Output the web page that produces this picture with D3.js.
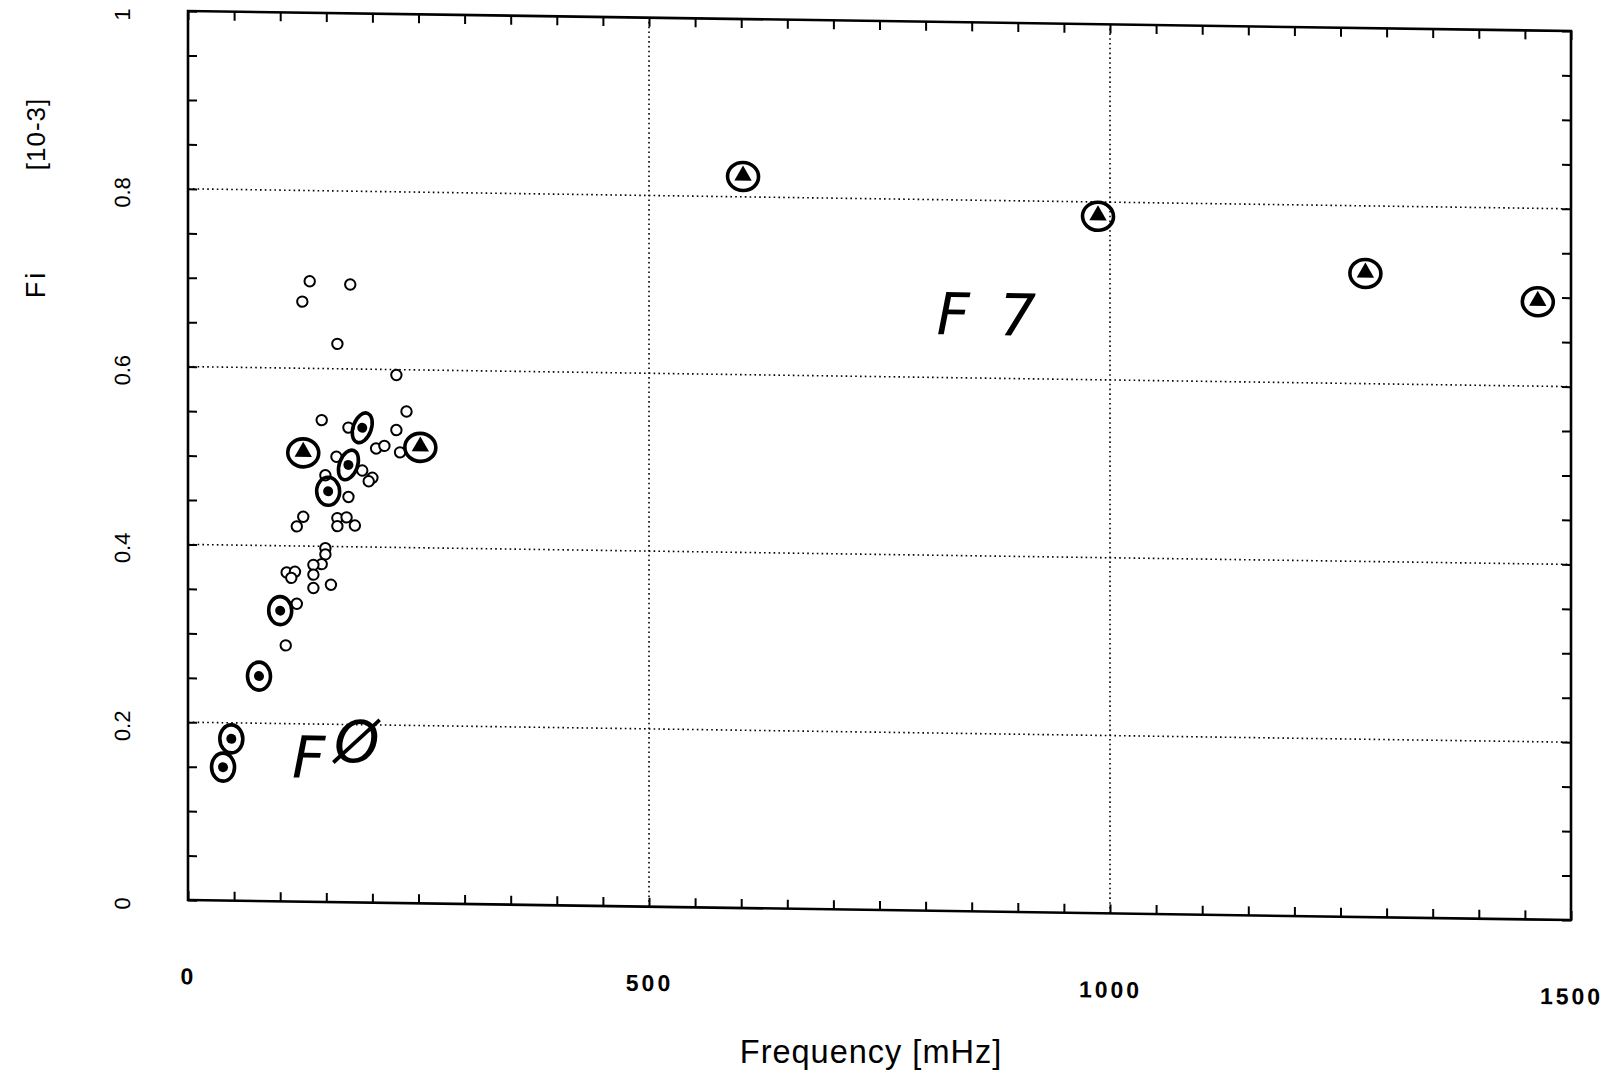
<!DOCTYPE html>
<html><head><meta charset="utf-8">
<script src="https://cdn.jsdelivr.net/npm/d3@7"></script>
<style>body{margin:0;background:#fff}</style>
</head><body>
<svg id="chart" width="1617" height="1076"></svg>
<script>
// ---- data ----
const xTickValues = [0, 500, 1000, 1500];
const xTickLabels = ["0", "500", "1000", "1500"];
const yTickValues = [0, 0.2, 0.4, 0.6, 0.8, 1];
const yTickLabels = ["0", "0.2", "0.4", "0.6", "0.8", "1"];
const gridX = [500, 1000];
const gridY = [0.2, 0.4, 0.6, 0.8];

// open circles
const openFreq = [132, 176, 124, 162, 226, 237, 145, 174, 226, 204, 213, 230, 161, 189, 200, 196, 149, 174,
                  125, 118, 162, 172, 162, 181, 149, 149, 145, 136, 136, 136, 155, 107, 116, 112, 118, 106];
const openFi   = [0.698, 0.695, 0.675, 0.628, 0.594, 0.553, 0.542, 0.534, 0.532, 0.511, 0.514, 0.507, 0.501, 0.486, 0.478, 0.474, 0.480, 0.456,
                  0.433, 0.422, 0.432, 0.433, 0.423, 0.424, 0.398, 0.391, 0.380, 0.379, 0.368, 0.353, 0.357, 0.370, 0.371, 0.364, 0.335, 0.288];

// filled triangles (circled by hand)
const triFreq = [602, 987, 1277, 1464, 125, 252];
const triFi   = [0.824, 0.785, 0.725, 0.696, 0.506, 0.514];

// filled dots (circled by hand)
const dotFreq = [152, 100, 77, 47, 38, 189, 174];
const dotFi   = [0.462, 0.327, 0.253, 0.182, 0.150, 0.534, 0.492];

// handwritten notes
const noteText = ["F", "Ø", "F", "7"];
const noteFreq = [131, 183, 830, 900];
const noteFi   = [0.163, 0.181, 0.672, 0.672];

// ---- drawing ----
const svg = d3.select("#chart");
svg.append("rect").attr("width", 1617).attr("height", 1076).attr("fill", "#fff");

const W = 1383, H0 = 900, H1 = 11;
const x = d3.scaleLinear().domain([0, 1500]).range([0, W]);
const y = d3.scaleLinear().domain([0, 1]).range([H0, H1]);

const g = svg.append("g").attr("transform", "translate(188,0) skewY(0.83)");

// grid
g.selectAll(".gy").data(gridY).join("line")
  .attr("x1", 0).attr("x2", W).attr("y1", d => y(d)).attr("y2", d => y(d))
  .attr("stroke", "#000").attr("stroke-width", 1.6).attr("stroke-dasharray", "1.6,3.2");
g.selectAll(".gx").data(gridX).join("line")
  .attr("x1", d => x(d)).attr("x2", d => x(d)).attr("y1", y(0)).attr("y2", y(1))
  .attr("stroke", "#000").attr("stroke-width", 1.6).attr("stroke-dasharray", "1.6,3.2");

// minor/major ticks, inward, on all four sides
const xt = d3.range(0, 1501, 50), yt = d3.range(0, 1.0001, 0.05);
function styleAxis(sel) {
  sel.select(".domain").remove();
  sel.selectAll("line").attr("stroke", "#000").attr("stroke-width", 2);
}
g.append("g").attr("transform", `translate(0,${y(0)})`)
  .call(d3.axisBottom(x).tickValues(xt).tickSize(-9).tickFormat("")).call(styleAxis);
g.append("g").attr("transform", `translate(0,${y(1)})`)
  .call(d3.axisTop(x).tickValues(xt).tickSize(-9).tickFormat("")).call(styleAxis);
g.append("g").call(d3.axisLeft(y).tickValues(yt).tickSize(-9).tickFormat("")).call(styleAxis);
g.append("g").attr("transform", `translate(${W},0)`)
  .call(d3.axisRight(y).tickValues(yt).tickSize(-9).tickFormat("")).call(styleAxis);

// frame
g.append("rect").attr("x", 0).attr("y", y(1)).attr("width", W).attr("height", y(0) - y(1))
  .attr("fill", "none").attr("stroke", "#000").attr("stroke-width", 2.6);

// tick labels
const xl = g.append("g").attr("transform", `translate(0,${y(0)})`)
  .call(d3.axisBottom(x).tickValues(xTickValues).tickFormat((d, i) => xTickLabels[i]).tickSize(0).tickPadding(68));
xl.select(".domain").remove();
xl.selectAll("text").attr("font-family", "'Liberation Sans', Arial, sans-serif")
  .attr("font-size", 23).attr("font-weight", "bold").attr("letter-spacing", 3).attr("fill", "#000");

const yl = g.append("g")
  .call(d3.axisLeft(y).tickValues(yTickValues).tickFormat((d, i) => yTickLabels[i]).tickSize(0));
yl.select(".domain").remove();
yl.selectAll("text").attr("x", 0).attr("dy", "0.36em").attr("text-anchor", "middle")
  .attr("transform", "translate(-66,4) rotate(-90)")
  .attr("font-family", "'Liberation Sans', Arial, sans-serif").attr("font-size", 22).attr("fill", "#000");

// open circles
g.selectAll(".oc").data(openFreq).join("circle")
  .attr("cx", d => x(d)).attr("cy", (d, i) => y(openFi[i])).attr("r", 5.2)
  .attr("fill", "#fff").attr("stroke", "#000").attr("stroke-width", 2);

// filled dots
g.selectAll(".fd").data(dotFreq).join("circle")
  .attr("cx", d => x(d)).attr("cy", (d, i) => y(dotFi[i])).attr("r", 5).attr("fill", "#000");

// triangles
const tri = d3.symbol().type(d3.symbolTriangle).size(130);
g.selectAll(".tr").data(triFreq).join("path")
  .attr("d", tri).attr("transform", (d, i) => `translate(${x(d)},${y(triFi[i])})`).attr("fill", "#000");

// hand-drawn rings
g.selectAll(".rt").data(triFreq).join("ellipse")
  .attr("cx", d => x(d)).attr("cy", (d, i) => y(triFi[i]) + 1).attr("rx", 15.5).attr("ry", 14)
  .attr("fill", "none").attr("stroke", "#000").attr("stroke-width", 3.6);
g.selectAll(".rd").data(dotFreq).join("ellipse")
  .attr("transform", (d, i) => `translate(${x(d)},${y(dotFi[i])}) rotate(${i >= 5 ? 20 : 0})`)
  .attr("rx", (d, i) => i >= 5 ? 9 : 11.5).attr("ry", (d, i) => i >= 5 ? 15.5 : 14)
  .attr("fill", "none").attr("stroke", "#000").attr("stroke-width", 3.6);

// handwritten notes
g.selectAll(".nt").data(noteText).join("text")
  .attr("x", (d, i) => x(noteFreq[i])).attr("y", (d, i) => y(noteFi[i]))
  .attr("dy", "0.36em").attr("text-anchor", "middle")
  .attr("font-family", "'DejaVu Sans', sans-serif").attr("font-style", "italic")
  .attr("font-size", 58).attr("fill", "#000").text(d => d);

// axis titles
svg.append("text").attr("x", 871).attr("y", 1052).attr("dy", "0.35em").attr("text-anchor", "middle")
  .attr("font-family", "'Liberation Sans', Arial, sans-serif").attr("font-size", 32.5).attr("letter-spacing", 1)
  .attr("fill", "#000").text("Frequency [mHz]");
svg.append("text").attr("transform", "translate(36,284) rotate(-90)").attr("dy", "0.35em").attr("text-anchor", "middle")
  .attr("font-family", "'Liberation Sans', Arial, sans-serif").attr("font-size", 27).attr("letter-spacing", 3)
  .attr("fill", "#000").text("Fi");
svg.append("text").attr("transform", "translate(36,134) rotate(-90)").attr("dy", "0.35em").attr("text-anchor", "middle")
  .attr("font-family", "'Liberation Sans', Arial, sans-serif").attr("font-size", 26).attr("letter-spacing", 1)
  .attr("fill", "#000").text("[10-3]");
</script>
</body></html>
